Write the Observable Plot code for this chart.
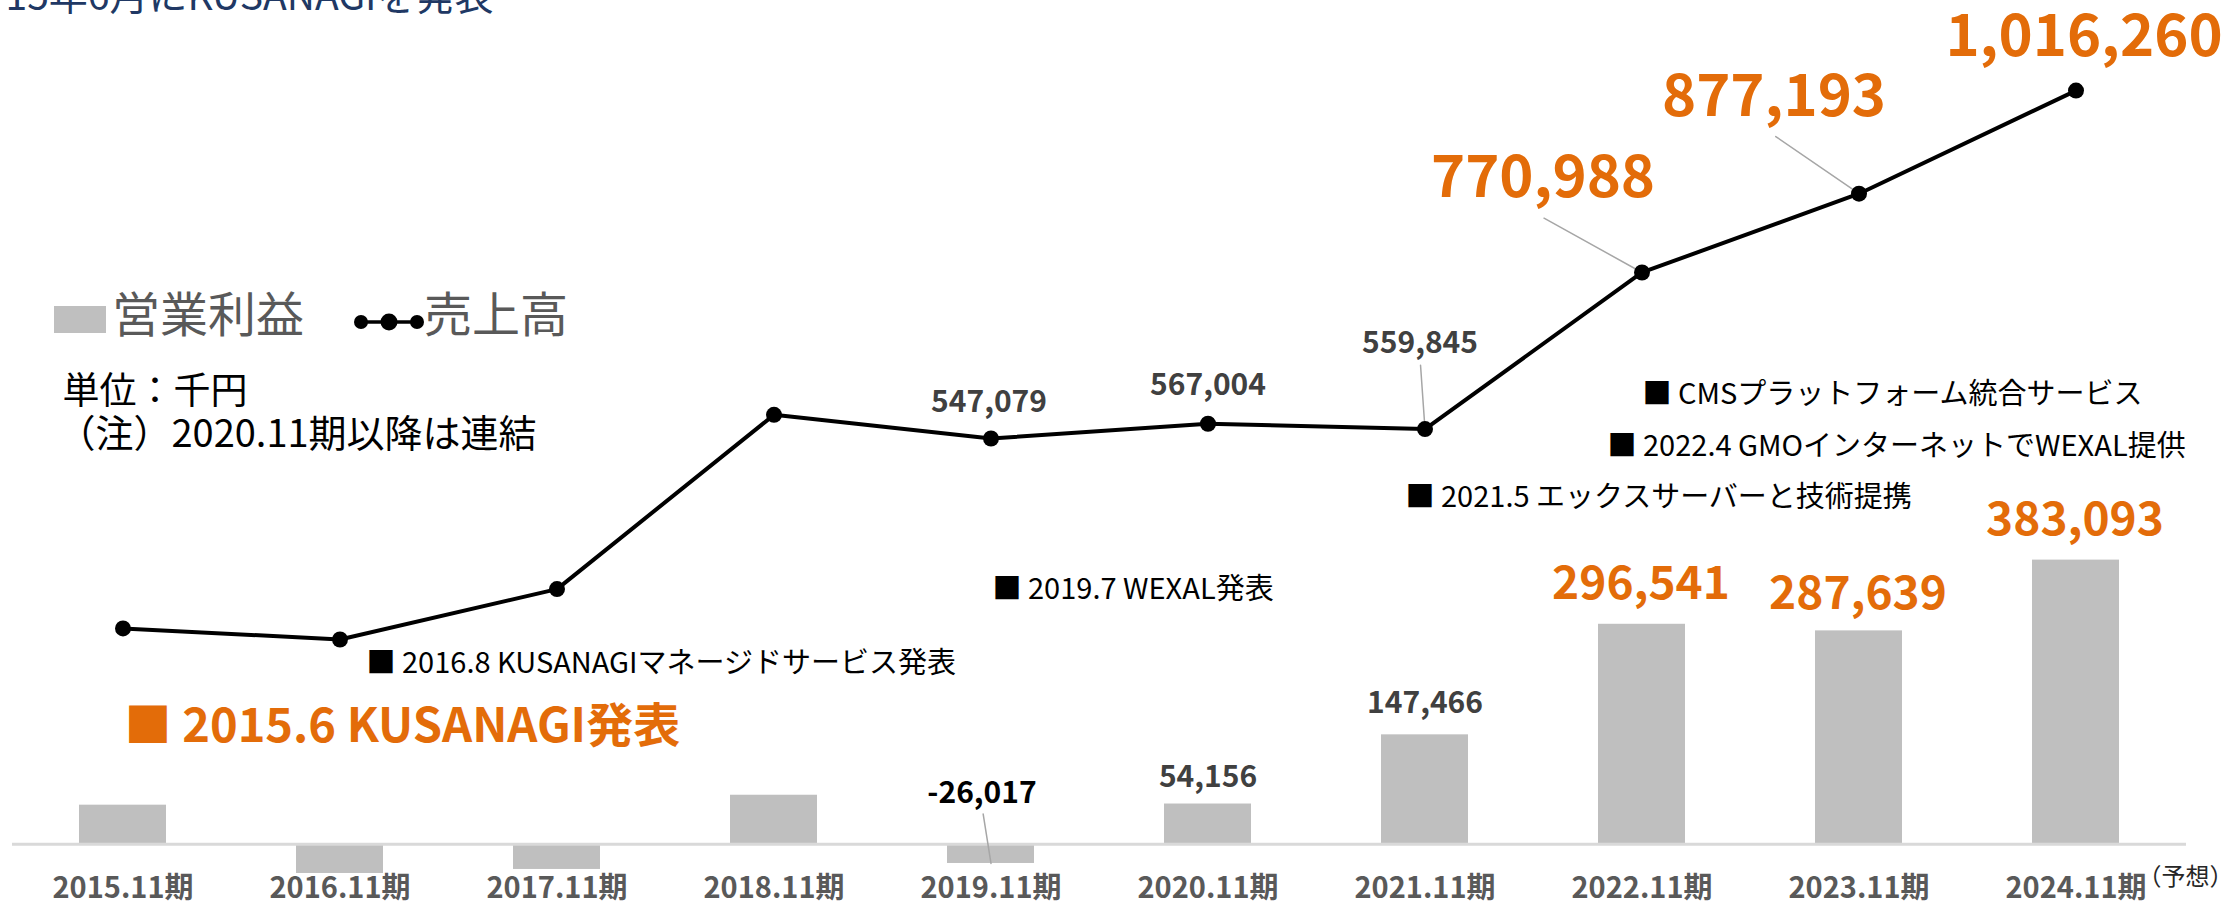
<!DOCTYPE html>
<html><head><meta charset="utf-8">
<script src="https://cdn.jsdelivr.net/npm/d3@7"></script>
<script src="https://cdn.jsdelivr.net/npm/@observablehq/plot@0.6"></script>
<style>
html,body{margin:0;padding:0;background:#fff;}
#wrap{position:relative;width:2236px;height:907px;overflow:hidden;font-family:"Noto Sans CJK JP","Noto Sans",sans-serif;}
#wrap svg{position:absolute;left:0;top:0;}
.ov{position:absolute;line-height:1;white-space:nowrap;}
</style></head><body><div id="wrap"></div>
<script>
// ---- data ----
const periods = ["2015.11期","2016.11期","2017.11期","2018.11期","2019.11期","2020.11期","2021.11期","2022.11期","2023.11期","2024.11期"];
const sales = [291000, 276000, 344000, 579000, 547079, 567004, 559845, 770988, 877193, 1016260];
const profit = [52600, -39500, -34100, 66000, -26017, 54156, 147466, 296541, 287639, 383093];
const seriesNames = ["営業利益", "売上高"];
const titleText = "15年6月にKUSANAGIを発表";
const unitNote = "単位：千円";
const consolidatedNote = "（注）2020.11期以降は連結";
const forecastNote = "（予想）";
const launchEvent = "■ 2015.6 KUSANAGI発表";
const events = ["■ 2016.8 KUSANAGIマネージドサービス発表", "■ 2019.7 WEXAL発表", "■ 2021.5 エックスサーバーと技術提携", "■ 2022.4 GMOインターネットでWEXAL提供", "■ CMSプラットフォーム統合サービス"];
const salesLabeled = ["2019.11期","2020.11期","2021.11期","2022.11期","2023.11期","2024.11期"];
const profitLabeled = ["2019.11期","2020.11期","2021.11期","2022.11期","2023.11期","2024.11期"];

// ---- styles ----
const F = '"Noto Sans CJK JP", "Noto Sans", sans-serif';
const ORANGE = "#e36c09", GT = "#404040", BAR = "#bfbfbf";
const salesLabelStyle = [
  {fill: GT, size: 30, dx: -2, dy: -36},
  {fill: GT, size: 30, dx: 0, dy: -38},
  {fill: GT, size: 30, dx: -5, dy: -86},
  {fill: ORANGE, size: 58, dx: -99, dy: -94},
  {fill: ORANGE, size: 58, dx: -85, dy: -96},
  {fill: ORANGE, size: 58, dx: 8, dy: -53}
];
const profitLabelStyle = [
  {fill: "#000", size: 30, dx: -9, dy: -70},
  {fill: GT, size: 30, dx: 0, dy: -27},
  {fill: GT, size: 30, dx: 0, dy: -31},
  {fill: ORANGE, size: 46, dx: -1, dy: -40},
  {fill: ORANGE, size: 46, dx: -1, dy: -37},
  {fill: ORANGE, size: 46, dx: -1, dy: -40}
];
// leader lines: [period, series, length(px), rotate(deg)]
const leaders = [
  ["2019.11期", "profit", 50, -9],
  ["2021.11期", "sales", 64, -4],
  ["2022.11期", "sales", 112, -61],
  ["2023.11期", "sales", 101, -55.5]
];
const eventPos = [[366, 663], [992, 589], [1405, 497], [1607, 446], [1642, 394]];
const ML = 12, MT = 28;

const rows = periods.map((p, i) => ({period: p, sales: sales[i], profit: profit[i]}));
const byP = Object.fromEntries(rows.map(r => [r.period, r]));
const fmt = v => v.toLocaleString("en-US");

const lineShape = {draw(ctx, l) { ctx.moveTo(0, 0); ctx.lineTo(0, -l); }};
const note = (t, x, y, size, opts = {}) => Plot.text([t], {
  frameAnchor: "top-left", textAnchor: "start", lineAnchor: "middle",
  dx: x - ML, dy: y - MT, fontSize: size, fill: "#000", fontFamily: F, ...opts
});

function build(shapeMode) {
  const marks = [
    Plot.barY(rows, {x: "period", y: "profit", fill: BAR}),
    Plot.ruleY([0], {stroke: "#d9d9d9", strokeWidth: 3}),
    ...leaders.map(([p, s, len, rot]) => Plot.vector([byP[p]], {
      x: "period", y: s, length: len, rotate: rot, anchor: "start",
      ...(shapeMode === "custom" ? {shape: lineShape, stroke: "#a6a6a6", strokeWidth: 1.5}
                                 : {shape: "spike", r: 0.8, fill: "#a6a6a6", stroke: "none"})
    })),
    Plot.lineY(rows, {x: "period", y: "sales", stroke: "#000", strokeWidth: 4}),
    Plot.dot(rows, {x: "period", y: "sales", r: 8, fill: "#000"}),
    ...salesLabeled.map((p, i) => Plot.text([byP[p]], {
      x: "period", y: "sales", text: d => fmt(d.sales), fontWeight: "bold",
      fill: salesLabelStyle[i].fill, fontSize: salesLabelStyle[i].size,
      dx: salesLabelStyle[i].dx, dy: salesLabelStyle[i].dy, fontFamily: F
    })),
    ...profitLabeled.map((p, i) => Plot.text([byP[p]], {
      x: "period", y: "profit", text: d => fmt(d.profit), fontWeight: "bold",
      fill: profitLabelStyle[i].fill, fontSize: profitLabelStyle[i].size,
      dx: profitLabelStyle[i].dx, dy: profitLabelStyle[i].dy, fontFamily: F
    })),
    Plot.text(periods, {x: d => d, frameAnchor: "bottom", lineAnchor: "middle", dy: -15, fontSize: 29, fontWeight: "bold", fill: "#595959", fontFamily: F}),
    Plot.text([forecastNote], {frameAnchor: "bottom-right", textAnchor: "start", lineAnchor: "middle", dx: -49, dy: -26, fontSize: 24, fill: "#262626", fontFamily: F}),
    note(titleText, 5, -3, 39, {fill: "#203864"}),
    note(unitNote, 62, 392, 37),
    note(consolidatedNote, 57, 434, 38),
    note(launchEvent, 124, 726, 47, {fontWeight: "bold", fill: ORANGE}),
    ...events.map((t, i) => note(t, eventPos[i][0], eventPos[i][1], 29))
  ];
  return Plot.plot({
    width: 2236, height: 907,
    marginLeft: ML, marginRight: 50, marginTop: MT, marginBottom: 4,
    x: {type: "band", domain: periods, paddingInner: 0.6, paddingOuter: 0.3, axis: null},
    y: {domain: [-80000, 1100000], axis: null},
    style: {fontFamily: F, background: "white"},
    marks
  });
}
let chart;
try { chart = build("custom"); } catch (e) { chart = build("spike"); }
const wrap = document.getElementById("wrap");
wrap.appendChild(chart);

// legend (HTML overlay)
const lg = document.createElement("div");
lg.innerHTML = `
<div class="ov" style="left:54px;top:306px;width:52px;height:27px;background:${BAR}"></div>
<div class="ov" style="left:112px;top:287px;font-size:48px;color:#595959">${seriesNames[0]}</div>
<svg class="ov" style="left:352px;top:308px" width="74" height="28"><line x1="9" y1="14" x2="65" y2="14" stroke="#000" stroke-width="3.5"/><circle cx="9" cy="14" r="7" fill="#000"/><circle cx="37" cy="14" r="8.5" fill="#000"/><circle cx="65" cy="14" r="7" fill="#000"/></svg>
<div class="ov" style="left:424px;top:287px;font-size:48px;color:#595959">${seriesNames[1]}</div>`;
wrap.appendChild(lg);
</script></body></html>
